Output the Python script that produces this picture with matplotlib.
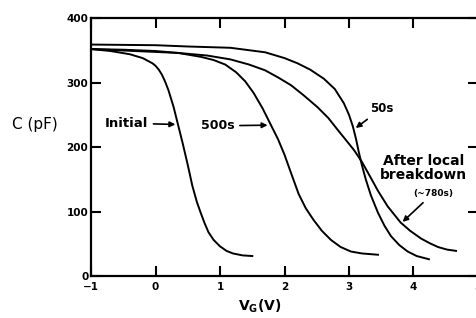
import matplotlib
matplotlib.use("Agg")
import matplotlib.pyplot as plt

# values: gate voltage (V) vs capacitance (pF)
initial_v = [-1.0, -0.7, -0.4, -0.2, -0.05, 0.0, 0.05, 0.10, 0.15, 0.20, 0.28, 0.35, 0.42, 0.50,
             0.57, 0.64, 0.70, 0.76, 0.82, 0.90, 1.0, 1.1, 1.2, 1.35, 1.50]
initial_c = [352, 349, 344, 338, 330, 326, 320, 312, 301, 288, 262, 234, 206, 172,
             140, 115, 98, 82, 68, 56, 46, 39, 35, 32, 31]

s500_v = [-1.0, -0.5, 0.0, 0.35, 0.7, 0.9, 1.08, 1.25, 1.39, 1.52, 1.66, 1.78, 1.9, 2.0,
          2.1, 2.22, 2.33, 2.45, 2.58, 2.72, 2.87, 3.03, 3.2, 3.45]
s500_c = [352, 351, 349, 346, 340, 335, 328, 316, 302, 284, 260, 236, 212, 188,
          160, 127, 105, 87, 70, 56, 45, 38, 35, 33]

s50_v = [-1.0, 0.0, 0.5, 1.16, 1.7, 2.0, 2.2, 2.4, 2.61, 2.78, 2.92, 3.0, 3.06, 3.11, 3.15,
         3.2, 3.26, 3.34, 3.45, 3.55, 3.65, 3.78, 3.91, 4.05, 4.24]
s50_c = [359, 358, 356, 354, 347, 338, 330, 320, 306, 290, 268, 250, 232, 212, 193,
         172, 150, 125, 98, 78, 62, 48, 38, 31, 26]

abd_v = [-1.0, 0.35, 0.8, 1.16, 1.45, 1.7, 1.9, 2.1, 2.3, 2.51, 2.68, 2.83, 2.96, 3.08,
         3.2, 3.34, 3.45, 3.6, 3.8, 3.95, 4.12, 4.25, 4.38, 4.52, 4.66]
abd_c = [352, 346, 342, 336, 328, 319, 308, 296, 280, 262, 245, 226, 210, 195,
         177, 152, 132, 108, 83, 70, 58, 51, 45, 41, 39]

x_ticks = [-1, 0, 1, 2, 3, 4, 5]
y_ticks = [0, 100, 200, 300, 400]

fig = plt.figure(figsize=(4.77, 3.18), dpi=100)
ax = fig.add_axes([0.191, 0.132, 0.811, 0.811])

for v, c in [(initial_v, initial_c), (s500_v, s500_c), (s50_v, s50_c), (abd_v, abd_c)]:
    ax.plot(v, c, color="black", lw=1.4, solid_joinstyle="round")

ax.set_xlim(-1, 5)
ax.set_ylim(0, 400)
ax.set_xticks(x_ticks)
ax.set_yticks(y_ticks)
ax.tick_params(direction="in", top=True, right=True, length=7, width=1.5,
               labelsize=7.5)
ax.tick_params(axis="x", pad=4.5)
ax.tick_params(axis="y", pad=2)
for lab in ax.get_xticklabels() + ax.get_yticklabels():
    lab.set_fontweight("bold")
for sp in ax.spines.values():
    sp.set_linewidth(1.6)

ax.set_xlabel("V$_\\mathregular{G}$(V)", fontsize=10, fontweight="bold")
ax.xaxis.set_label_coords(0.435, -0.116)
ax.xaxis.label.set_va("center")
ax.set_ylabel("C (pF)", fontsize=11, rotation=0)
ax.yaxis.set_label_coords(-0.145, 0.589)
ax.yaxis.label.set_va("center")
ax.yaxis.label.set_ha("center")

arrow = dict(arrowstyle="-|>", color="black", lw=1.2, mutation_scale=8)
ax.annotate("Initial", xy=(0.35, 235), xytext=(-0.456, 237), fontsize=9.5,
            fontweight="bold", ha="center", va="center", arrowprops=arrow)
ax.annotate("500s", xy=(1.78, 234), xytext=(0.96, 233), fontsize=9,
            fontweight="bold", ha="center", va="center", arrowprops=arrow)
ax.annotate("50s", xy=(3.07, 227), xytext=(3.51, 260), fontsize=8.5,
            fontweight="bold", ha="center", va="center", arrowprops=arrow)
ax.annotate("After local\nbreakdown", xy=(3.80, 79), xytext=(4.15, 168),
            fontsize=10, fontweight="bold", ha="center", va="center",
            linespacing=1.0, annotation_clip=False)
ax.annotate("(~780s)", xy=(3.80, 81), xytext=(4.30, 128), fontsize=6.5,
            fontweight="bold", ha="center", va="center", arrowprops=arrow)

fig.savefig("out.png", dpi=100)
